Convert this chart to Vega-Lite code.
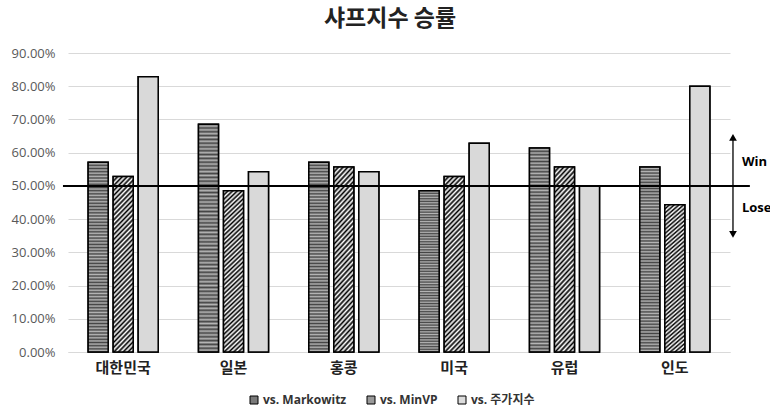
{
  "$schema": "https://vega.github.io/schema/vega-lite/v6.json",
  "width": 662,
  "height": 299,
  "autosize": {"type": "none"},
  "padding": {"left": 68, "top": 53, "right": 40, "bottom": 63},
  "background": "#ffffff",
  "title": {"text": "샤프지수 승률", "font": "Noto Sans CJK KR", "fontSize": 23, "fontWeight": "bold", "color": "#222222", "anchor": "middle", "dx": -9, "offset": 16},
  "config": {
    "view": {"stroke": null},
    "axisY": {"title": null, "format": ".2%", "tickCount": 10, "ticks": false, "domain": false, "grid": true, "gridColor": "#d9d9d9", "gridWidth": 1, "labelFont": "Open Sans", "labelFontSize": 13, "labelColor": "#595959", "labelPadding": 13, "labelOverlap": false}
  },
  "data": {"values": [
    {"country": "대한민국", "series": "vs. Markowitz", "rate": 0.5714},
    {"country": "대한민국", "series": "vs. MinVP", "rate": 0.5286},
    {"country": "대한민국", "series": "vs. 주가지수", "rate": 0.8286},
    {"country": "일본", "series": "vs. Markowitz", "rate": 0.6857},
    {"country": "일본", "series": "vs. MinVP", "rate": 0.4857},
    {"country": "일본", "series": "vs. 주가지수", "rate": 0.5429},
    {"country": "홍콩", "series": "vs. Markowitz", "rate": 0.5714},
    {"country": "홍콩", "series": "vs. MinVP", "rate": 0.5571},
    {"country": "홍콩", "series": "vs. 주가지수", "rate": 0.5429},
    {"country": "미국", "series": "vs. Markowitz", "rate": 0.4857},
    {"country": "미국", "series": "vs. MinVP", "rate": 0.5286},
    {"country": "미국", "series": "vs. 주가지수", "rate": 0.6286},
    {"country": "유럽", "series": "vs. Markowitz", "rate": 0.6143},
    {"country": "유럽", "series": "vs. MinVP", "rate": 0.5571},
    {"country": "유럽", "series": "vs. 주가지수", "rate": 0.5},
    {"country": "인도", "series": "vs. Markowitz", "rate": 0.5571},
    {"country": "인도", "series": "vs. MinVP", "rate": 0.4429},
    {"country": "인도", "series": "vs. 주가지수", "rate": 0.8}
  ]},
  "layer": [
    {
      "layer": [
        {
          "mark": {"type": "bar", "stroke": "#000000", "strokeWidth": 1.5},
          "encoding": {
            "x": {"field": "country", "type": "nominal", "sort": ["대한민국", "일본", "홍콩", "미국", "유럽", "인도"],
              "scale": {"paddingInner": 0.365, "paddingOuter": 0.1825},
              "axis": {"title": null, "labelAngle": 0, "ticks": false, "domainColor": "#d9d9d9", "domainWidth": 1, "labelFont": "Noto Sans CJK KR", "labelFontSize": 15, "labelFontWeight": "bold", "labelColor": "#222222", "labelPadding": 8}},
            "xOffset": {"field": "series", "type": "nominal", "sort": ["vs. Markowitz", "vs. MinVP", "vs. 주가지수"], "scale": {"paddingInner": 0.2, "paddingOuter": 0}},
            "y": {"field": "rate", "type": "quantitative", "scale": {"domain": [0, 0.9], "nice": false},
              "axis": {"values": [0, 0.1, 0.2, 0.3, 0.4, 0.5, 0.6, 0.7, 0.8, 0.9]}},
            "color": {"field": "series", "type": "nominal", "sort": ["vs. Markowitz", "vs. MinVP", "vs. 주가지수"],
              "scale": {"domain": ["vs. Markowitz", "vs. MinVP", "vs. 주가지수"], "range": ["#7a7a7a", "#9a9a9a", "#dcdcdc"]},
              "legend": {"title": null, "orient": "none", "legendX": 180, "legendY": 341, "direction": "horizontal", "symbolType": "square", "symbolSize": 64, "symbolStrokeColor": "#000000", "symbolStrokeWidth": 1, "labelFont": "Open Sans, Noto Sans CJK KR", "labelFontSize": 12, "labelFontWeight": "bold", "labelColor": "#333333", "columnPadding": 18, "labelOffset": 3}}
          }
        },
        {
          "mark": {"type": "bar", "stroke": "#000000", "strokeWidth": 1.5},
          "encoding": {
            "x": {"field": "country", "type": "nominal", "sort": ["대한민국", "일본", "홍콩", "미국", "유럽", "인도"]},
            "xOffset": {"field": "series", "type": "nominal", "sort": ["vs. Markowitz", "vs. MinVP", "vs. 주가지수"]},
            "y": {"field": "rate", "type": "quantitative"},
            "fill": {
              "condition": [
                {"test": "datum.series === 'vs. Markowitz'", "value": {"gradient": "linear", "x1": 0, "y1": 0, "x2": 0, "y2": 1, "stops": [
                  {"offset":0,"color":"#454545"},{"offset":0.0083,"color":"#b5b5b5"},{"offset":0.0167,"color":"#454545"},{"offset":0.025,"color":"#b5b5b5"},{"offset":0.0333,"color":"#454545"},{"offset":0.0417,"color":"#b5b5b5"},{"offset":0.05,"color":"#454545"},{"offset":0.0583,"color":"#b5b5b5"},{"offset":0.0667,"color":"#454545"},{"offset":0.075,"color":"#b5b5b5"},{"offset":0.0833,"color":"#454545"},{"offset":0.0917,"color":"#b5b5b5"},
                  {"offset":0.1,"color":"#454545"},{"offset":0.1083,"color":"#b5b5b5"},{"offset":0.1167,"color":"#454545"},{"offset":0.125,"color":"#b5b5b5"},{"offset":0.1333,"color":"#454545"},{"offset":0.1417,"color":"#b5b5b5"},{"offset":0.15,"color":"#454545"},{"offset":0.1583,"color":"#b5b5b5"},{"offset":0.1667,"color":"#454545"},{"offset":0.175,"color":"#b5b5b5"},{"offset":0.1833,"color":"#454545"},{"offset":0.1917,"color":"#b5b5b5"},
                  {"offset":0.2,"color":"#454545"},{"offset":0.2083,"color":"#b5b5b5"},{"offset":0.2167,"color":"#454545"},{"offset":0.225,"color":"#b5b5b5"},{"offset":0.2333,"color":"#454545"},{"offset":0.2417,"color":"#b5b5b5"},{"offset":0.25,"color":"#454545"},{"offset":0.2583,"color":"#b5b5b5"},{"offset":0.2667,"color":"#454545"},{"offset":0.275,"color":"#b5b5b5"},{"offset":0.2833,"color":"#454545"},{"offset":0.2917,"color":"#b5b5b5"},
                  {"offset":0.3,"color":"#454545"},{"offset":0.3083,"color":"#b5b5b5"},{"offset":0.3167,"color":"#454545"},{"offset":0.325,"color":"#b5b5b5"},{"offset":0.3333,"color":"#454545"},{"offset":0.3417,"color":"#b5b5b5"},{"offset":0.35,"color":"#454545"},{"offset":0.3583,"color":"#b5b5b5"},{"offset":0.3667,"color":"#454545"},{"offset":0.375,"color":"#b5b5b5"},{"offset":0.3833,"color":"#454545"},{"offset":0.3917,"color":"#b5b5b5"},
                  {"offset":0.4,"color":"#454545"},{"offset":0.4083,"color":"#b5b5b5"},{"offset":0.4167,"color":"#454545"},{"offset":0.425,"color":"#b5b5b5"},{"offset":0.4333,"color":"#454545"},{"offset":0.4417,"color":"#b5b5b5"},{"offset":0.45,"color":"#454545"},{"offset":0.4583,"color":"#b5b5b5"},{"offset":0.4667,"color":"#454545"},{"offset":0.475,"color":"#b5b5b5"},{"offset":0.4833,"color":"#454545"},{"offset":0.4917,"color":"#b5b5b5"},
                  {"offset":0.5,"color":"#454545"},{"offset":0.5083,"color":"#b5b5b5"},{"offset":0.5167,"color":"#454545"},{"offset":0.525,"color":"#b5b5b5"},{"offset":0.5333,"color":"#454545"},{"offset":0.5417,"color":"#b5b5b5"},{"offset":0.55,"color":"#454545"},{"offset":0.5583,"color":"#b5b5b5"},{"offset":0.5667,"color":"#454545"},{"offset":0.575,"color":"#b5b5b5"},{"offset":0.5833,"color":"#454545"},{"offset":0.5917,"color":"#b5b5b5"},
                  {"offset":0.6,"color":"#454545"},{"offset":0.6083,"color":"#b5b5b5"},{"offset":0.6167,"color":"#454545"},{"offset":0.625,"color":"#b5b5b5"},{"offset":0.6333,"color":"#454545"},{"offset":0.6417,"color":"#b5b5b5"},{"offset":0.65,"color":"#454545"},{"offset":0.6583,"color":"#b5b5b5"},{"offset":0.6667,"color":"#454545"},{"offset":0.675,"color":"#b5b5b5"},{"offset":0.6833,"color":"#454545"},{"offset":0.6917,"color":"#b5b5b5"},
                  {"offset":0.7,"color":"#454545"},{"offset":0.7083,"color":"#b5b5b5"},{"offset":0.7167,"color":"#454545"},{"offset":0.725,"color":"#b5b5b5"},{"offset":0.7333,"color":"#454545"},{"offset":0.7417,"color":"#b5b5b5"},{"offset":0.75,"color":"#454545"},{"offset":0.7583,"color":"#b5b5b5"},{"offset":0.7667,"color":"#454545"},{"offset":0.775,"color":"#b5b5b5"},{"offset":0.7833,"color":"#454545"},{"offset":0.7917,"color":"#b5b5b5"},
                  {"offset":0.8,"color":"#454545"},{"offset":0.8083,"color":"#b5b5b5"},{"offset":0.8167,"color":"#454545"},{"offset":0.825,"color":"#b5b5b5"},{"offset":0.8333,"color":"#454545"},{"offset":0.8417,"color":"#b5b5b5"},{"offset":0.85,"color":"#454545"},{"offset":0.8583,"color":"#b5b5b5"},{"offset":0.8667,"color":"#454545"},{"offset":0.875,"color":"#b5b5b5"},{"offset":0.8833,"color":"#454545"},{"offset":0.8917,"color":"#b5b5b5"},
                  {"offset":0.9,"color":"#454545"},{"offset":0.9083,"color":"#b5b5b5"},{"offset":0.9167,"color":"#454545"},{"offset":0.925,"color":"#b5b5b5"},{"offset":0.9333,"color":"#454545"},{"offset":0.9417,"color":"#b5b5b5"},{"offset":0.95,"color":"#454545"},{"offset":0.9583,"color":"#b5b5b5"},{"offset":0.9667,"color":"#454545"},{"offset":0.975,"color":"#b5b5b5"},{"offset":0.9833,"color":"#454545"},{"offset":0.9917,"color":"#b5b5b5"},
                  {"offset":1,"color":"#454545"}
                ]}},
                {"test": "datum.series === 'vs. MinVP'", "value": {"gradient": "linear", "x1": 0, "y1": 0, "x2": 0.13, "y2": 1.1, "stops": [
                  {"offset":0,"color":"#000000"},{"offset":0.0125,"color":"#ffffff"},{"offset":0.025,"color":"#000000"},{"offset":0.0375,"color":"#ffffff"},{"offset":0.05,"color":"#000000"},{"offset":0.0625,"color":"#ffffff"},{"offset":0.075,"color":"#000000"},{"offset":0.0875,"color":"#ffffff"},
                  {"offset":0.1,"color":"#000000"},{"offset":0.1125,"color":"#ffffff"},{"offset":0.125,"color":"#000000"},{"offset":0.1375,"color":"#ffffff"},{"offset":0.15,"color":"#000000"},{"offset":0.1625,"color":"#ffffff"},{"offset":0.175,"color":"#000000"},{"offset":0.1875,"color":"#ffffff"},
                  {"offset":0.2,"color":"#000000"},{"offset":0.2125,"color":"#ffffff"},{"offset":0.225,"color":"#000000"},{"offset":0.2375,"color":"#ffffff"},{"offset":0.25,"color":"#000000"},{"offset":0.2625,"color":"#ffffff"},{"offset":0.275,"color":"#000000"},{"offset":0.2875,"color":"#ffffff"},
                  {"offset":0.3,"color":"#000000"},{"offset":0.3125,"color":"#ffffff"},{"offset":0.325,"color":"#000000"},{"offset":0.3375,"color":"#ffffff"},{"offset":0.35,"color":"#000000"},{"offset":0.3625,"color":"#ffffff"},{"offset":0.375,"color":"#000000"},{"offset":0.3875,"color":"#ffffff"},
                  {"offset":0.4,"color":"#000000"},{"offset":0.4125,"color":"#ffffff"},{"offset":0.425,"color":"#000000"},{"offset":0.4375,"color":"#ffffff"},{"offset":0.45,"color":"#000000"},{"offset":0.4625,"color":"#ffffff"},{"offset":0.475,"color":"#000000"},{"offset":0.4875,"color":"#ffffff"},
                  {"offset":0.5,"color":"#000000"},{"offset":0.5125,"color":"#ffffff"},{"offset":0.525,"color":"#000000"},{"offset":0.5375,"color":"#ffffff"},{"offset":0.55,"color":"#000000"},{"offset":0.5625,"color":"#ffffff"},{"offset":0.575,"color":"#000000"},{"offset":0.5875,"color":"#ffffff"},
                  {"offset":0.6,"color":"#000000"},{"offset":0.6125,"color":"#ffffff"},{"offset":0.625,"color":"#000000"},{"offset":0.6375,"color":"#ffffff"},{"offset":0.65,"color":"#000000"},{"offset":0.6625,"color":"#ffffff"},{"offset":0.675,"color":"#000000"},{"offset":0.6875,"color":"#ffffff"},
                  {"offset":0.7,"color":"#000000"},{"offset":0.7125,"color":"#ffffff"},{"offset":0.725,"color":"#000000"},{"offset":0.7375,"color":"#ffffff"},{"offset":0.75,"color":"#000000"},{"offset":0.7625,"color":"#ffffff"},{"offset":0.775,"color":"#000000"},{"offset":0.7875,"color":"#ffffff"},
                  {"offset":0.8,"color":"#000000"},{"offset":0.8125,"color":"#ffffff"},{"offset":0.825,"color":"#000000"},{"offset":0.8375,"color":"#ffffff"},{"offset":0.85,"color":"#000000"},{"offset":0.8625,"color":"#ffffff"},{"offset":0.875,"color":"#000000"},{"offset":0.8875,"color":"#ffffff"},
                  {"offset":0.9,"color":"#000000"},{"offset":0.9125,"color":"#ffffff"},{"offset":0.925,"color":"#000000"},{"offset":0.9375,"color":"#ffffff"},{"offset":0.95,"color":"#000000"},{"offset":0.9625,"color":"#ffffff"},{"offset":0.975,"color":"#000000"},{"offset":0.9875,"color":"#ffffff"},
                  {"offset":1,"color":"#000000"}
                ]}}
              ],
              "value": "#d9d9d9"
            }
          }
        }
      ]
    },
    {
      "data": {"values": [{}]},
      "mark": {"type": "rule", "color": "#000000", "strokeWidth": 2},
      "encoding": {
        "x": {"datum": -0.0076, "type": "quantitative", "scale": {"domain": [0, 1], "nice": false, "zero": false}, "axis": null},
        "x2": {"datum": 1.03},
        "y": {"datum": 0.5, "type": "quantitative"}
      }
    },
    {
      "data": {"values": [{}]},
      "mark": {"type": "rule", "color": "#000000", "strokeWidth": 1.3},
      "encoding": {
        "x": {"datum": 1.0045, "type": "quantitative", "scale": {"domain": [0, 1], "nice": false, "zero": false}, "axis": null},
        "y": {"datum": 0.35, "type": "quantitative"},
        "y2": {"datum": 0.65}
      }
    },
    {
      "data": {"values": [{}]},
      "mark": {"type": "point", "shape": "triangle-up", "filled": true, "color": "#000000", "size": 60, "opacity": 1},
      "encoding": {
        "x": {"datum": 1.0045, "type": "quantitative", "scale": {"domain": [0, 1], "nice": false, "zero": false}, "axis": null},
        "y": {"datum": 0.646, "type": "quantitative"}
      }
    },
    {
      "data": {"values": [{}]},
      "mark": {"type": "point", "shape": "triangle-down", "filled": true, "color": "#000000", "size": 60, "opacity": 1},
      "encoding": {
        "x": {"datum": 1.0045, "type": "quantitative", "scale": {"domain": [0, 1], "nice": false, "zero": false}, "axis": null},
        "y": {"datum": 0.354, "type": "quantitative"}
      }
    },
    {
      "data": {"values": [{}]},
      "mark": {"type": "text", "align": "left", "baseline": "middle", "font": "Open Sans", "fontSize": 13, "fontWeight": "bold", "color": "#000000"},
      "encoding": {
        "x": {"datum": 1.018, "type": "quantitative", "scale": {"domain": [0, 1], "nice": false, "zero": false}, "axis": null},
        "y": {"datum": 0.572, "type": "quantitative"},
        "text": {"value": "Win"}
      }
    },
    {
      "data": {"values": [{}]},
      "mark": {"type": "text", "align": "left", "baseline": "middle", "font": "Open Sans", "fontSize": 13, "fontWeight": "bold", "color": "#000000"},
      "encoding": {
        "x": {"datum": 1.018, "type": "quantitative", "scale": {"domain": [0, 1], "nice": false, "zero": false}, "axis": null},
        "y": {"datum": 0.433, "type": "quantitative"},
        "text": {"value": "Lose"}
      }
    }
  ],
  "resolve": {"scale": {"x": "independent"}}
}
